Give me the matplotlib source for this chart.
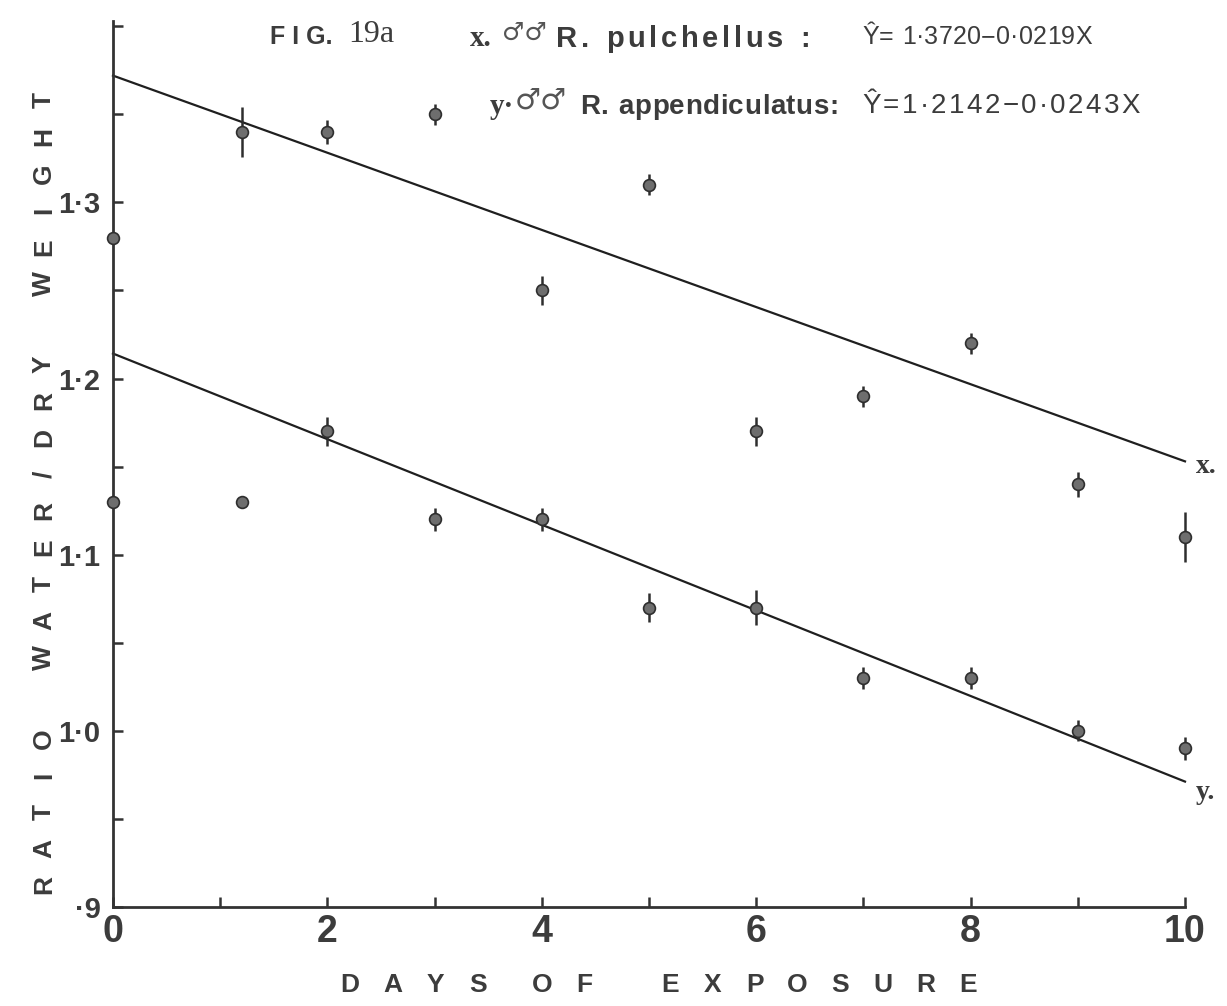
import matplotlib
matplotlib.use("Agg")
import matplotlib.pyplot as plt
import numpy as np

# Days of exposure at which each sample was weighed
days = [0, 1.2, 2, 3, 4, 5, 6, 7, 8, 9, 10]

# x. R. pulchellus males: mean water/dry weight ratio and error half-widths
ratio_pulchellus = [1.28, 1.34, 1.34, 1.35, 1.25, 1.31, 1.17, 1.19, 1.22, 1.14, 1.11]
err_pulchellus = [0.0, 0.014, 0.007, 0.006, 0.008, 0.006, 0.008, 0.006, 0.006, 0.007, 0.014]

# y. R. appendiculatus males
ratio_appendiculatus = [1.13, 1.13, 1.17, 1.12, 1.12, 1.07, 1.07, 1.03, 1.03, 1.00, 0.99]
err_appendiculatus = [0.0, 0.0, 0.008, 0.0065, 0.0065, 0.008, 0.01, 0.0065, 0.006, 0.006, 0.0065]

# Fitted regression lines  Y = a + b X
fit_pulchellus = (1.3720, -0.0219)
fit_appendiculatus = (1.2142, -0.0243)

x_ticks = [0, 2, 4, 6, 8, 10]
y_ticks = [0.9, 1.0, 1.1, 1.2, 1.3]
y_tick_labels = ["·9", "1·0", "1·1", "1·2", "1·3"]

W, H = 1227, 1006
INK = "#333333"
TEXT = "#3c3c3c"
SANS = ["Liberation Sans", "DejaVu Sans"]
SERIF = ["Liberation Serif", "DejaVu Serif"]

fig = plt.figure(figsize=(W / 100, H / 100), dpi=100)
renderer = fig.canvas.get_renderer()
ax = fig.add_axes([113 / W, 99 / H, 1072 / W, 886 / H])
ax.set_xlim(0, 10)
ax.set_ylim(0.9, 1.403)

for side in ("top", "right"):
    ax.spines[side].set_visible(False)
for side in ("left", "bottom"):
    ax.spines[side].set_linewidth(2.0)
    ax.spines[side].set_color(INK)

x_all = np.arange(0, 11, 1)
ax.set_xticks(x_all)
ax.set_xticklabels([str(v) if v in x_ticks else "" for v in x_all])
y_all = np.round(np.arange(0.9, 1.4001, 0.05), 2)
ax.set_yticks(y_all)
ax.set_yticklabels([y_tick_labels[y_ticks.index(v)] if v in y_ticks else "" for v in y_all])
ax.tick_params(axis="both", direction="in", length=7, width=1.8, color=INK)
ax.tick_params(axis="x", pad=5, labelsize=27, labelcolor=TEXT)
ax.tick_params(axis="y", pad=9, labelsize=21, labelcolor=TEXT)
for lab in ax.get_xticklabels() + ax.get_yticklabels():
    lab.set_fontfamily(SANS)
    lab.set_fontweight("bold")

# Regression lines
xs = np.array([0, 10])
for a, b in (fit_pulchellus, fit_appendiculatus):
    ax.plot(xs, a + b * xs, color="#1f1f1f", lw=1.6, clip_on=False, zorder=2)

# Means with error bars
for vals, errs in ((ratio_pulchellus, err_pulchellus), (ratio_appendiculatus, err_appendiculatus)):
    ax.errorbar(days, vals, yerr=errs, fmt="o", ms=8.5, mfc="#6e6e6e", mec="#2e2e2e",
                mew=1.2, ecolor="#2e2e2e", elinewidth=1.8, capsize=0, clip_on=False, zorder=3)

# Line identifiers at the right-hand ends
ax.text(10.1, fit_pulchellus[0] + 10 * fit_pulchellus[1] - 0.003, "x.", family=SERIF,
        fontweight="bold", fontsize=20, color=TEXT, va="center", ha="left", clip_on=False)
ax.text(10.1, fit_appendiculatus[0] + 10 * fit_appendiculatus[1] - 0.006, "y.", family=SERIF,
        fontweight="bold", fontsize=20, color=TEXT, va="center", ha="left", clip_on=False)


def spaced(text, start, end, fixed, space_w=1.0, vertical=False, **kw):
    """Lay out letters evenly between two pixel positions."""
    weights = [space_w if c == " " else 1.0 for c in text]
    steps = [(weights[i] + weights[i + 1]) / 2 for i in range(len(text) - 1)]
    centers = np.concatenate([[0], np.cumsum(steps)])
    centers = start + (end - start) * centers / centers[-1]
    for c, p in zip(text, centers):
        if c == " ":
            continue
        if vertical:
            fig.text(fixed / W, 1 - p / H, c, rotation=90, ha="center", va="center", **kw)
        else:
            fig.text(p / W, 1 - fixed / H, c, ha="center", va="center", **kw)


def tracked(text, x0, x1, y, **kw):
    """Set a text letter by letter with extra tracking so it runs from x0 to x1."""
    probe = fig.text(0, 0, "n", **kw)
    space = probe.get_window_extent(renderer).width * 0.55
    widths = []
    for c in text:
        if c == " ":
            widths.append(space)
        else:
            probe.set_text(c)
            widths.append(probe.get_window_extent(renderer).width)
    probe.remove()
    extra = (x1 - x0 - sum(widths)) / max(len(text) - 1, 1)
    pos = x0
    for c, w in zip(text, widths):
        if c != " ":
            fig.text(pos / W, 1 - y / H, c, ha="left", va="center", **kw)
        pos += w + extra


label_kw = dict(family=SANS, fontweight="bold", fontsize=19, color=TEXT)
spaced("RATIO WATER/DRY WEIGHT", 885, 100, 44, space_w=1.2, vertical=True, **label_kw)
spaced("DAYS OF  EXPOSURE", 350, 968, 985, space_w=0.5, **label_kw)

# Figure heading and legend with regression equations
head_kw = dict(ha="left", va="center", color=TEXT)
fig.text(270 / W, 1 - 37 / H, "F I G.", family=SANS, fontweight="bold", fontsize=18, **head_kw)
fig.text(348 / W, 1 - 35 / H, "19a", family=SERIF, fontsize=23, **head_kw)

fig.text(470 / W, 1 - 39 / H, "x.", family=SERIF, fontweight="bold", fontsize=21, **head_kw)
fig.text(502 / W, 1 - 33 / H, "♂♂", family=["DejaVu Sans"], fontweight="bold", fontsize=18,
         ha="left", va="center", color="#555555")
tracked("R. pulchellus :", 556, 810, 39, family=SANS, fontweight="bold", fontsize=21, color=TEXT)
tracked("Ŷ= 1·3720−0·0219X", 862, 1092, 37, family=SANS, fontsize=18, color=TEXT)

fig.text(490 / W, 1 - 107 / H, "y·", family=SERIF, fontweight="bold", fontsize=21, **head_kw)
fig.text(515 / W, 1 - 101 / H, "♂♂", family=["DejaVu Sans"], fontweight="bold", fontsize=21,
         ha="left", va="center", color="#555555")
tracked("R. appendiculatus:", 580, 838, 107, family=SANS, fontweight="bold", fontsize=20, color=TEXT)
tracked("Ŷ=1·2142−0·0243X", 862, 1140, 106, family=SANS, fontsize=20, color=TEXT)

fig.savefig("out.png", dpi=100, facecolor="white")
